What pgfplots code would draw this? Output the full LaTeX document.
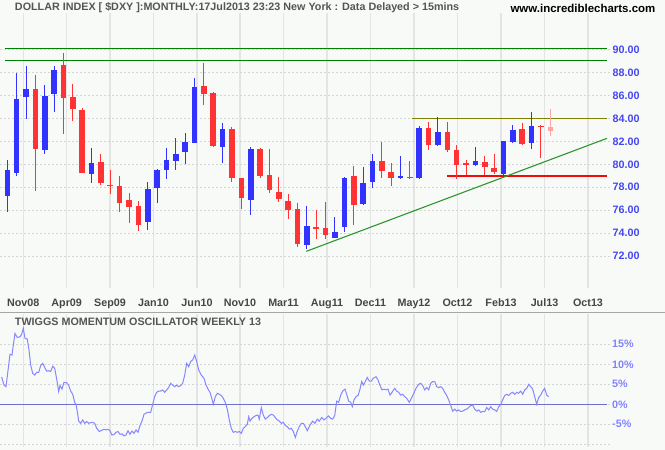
\documentclass[border=0pt]{standalone}
\usepackage{pgfplots}
\pgfplotsset{compat=1.18}
\usepackage{pgfplotstable}
\usepackage{fontspec}
\setmainfont{Liberation Sans}
\definecolor{bg}{RGB}{248,250,248}
\definecolor{cblue}{RGB}{51,51,255}
\definecolor{cred}{RGB}{255,51,51}
\definecolor{cpink}{RGB}{255,165,165}
\definecolor{gridv}{RGB}{228,228,228}
\definecolor{gridh}{RGB}{212,212,212}
\definecolor{lblblue}{RGB}{70,70,240}
\definecolor{osclbl}{RGB}{130,130,255}
\definecolor{oscline}{RGB}{135,135,255}
\definecolor{zeroline}{RGB}{110,110,205}
\definecolor{txtgray}{RGB}{85,85,85}
\definecolor{lgreen}{RGB}{0,128,0}
\definecolor{olivel}{RGB}{128,128,0}
\definecolor{tgreen}{RGB}{45,150,45}
\definecolor{hred}{RGB}{240,10,10}

% index 0 = Sep08 ... 58 = Jul13
\pgfplotstableread{
i open high low close
0 77.28 80.38 75.88 79.51
1 79.28 87.94 79.01 85.68
2 85.88 88.55 83.97 86.55
4 81.28 86.90 80.93 85.94
5 86.14 88.55 84.58 88.20
9 79.19 81.42 78.41 80.12
15 75.01 78.46 74.32 77.86
16 77.97 79.55 76.67 79.51
17 79.54 81.42 78.75 80.38
18 80.32 82.29 79.54 80.90
19 81.10 82.72 80.06 81.94
20 81.88 87.51 81.88 86.72
23 81.54 83.59 80.12 83.07
26 76.93 81.51 75.62 81.33
32 73.01 76.38 72.66 74.64
35 73.62 75.45 73.59 74.12
36 74.58 78.90 74.15 78.85
38 76.56 79.78 76.50 78.39
39 78.42 80.92 77.98 80.31
42 78.85 80.74 78.71 78.97
44 78.83 83.30 78.71 83.19
46 81.70 84.15 81.62 82.78
50 79.96 81.53 79.87 80.25
53 79.20 82.05 78.88 81.99
54 81.94 83.39 81.85 83.01
56 81.82 84.58 81.35 83.36
}\upcandles

\pgfplotstableread{
i open high low close
3 86.55 87.77 77.71 81.36
6 88.64 89.68 82.67 85.80
7 85.86 86.99 83.80 84.84
8 84.72 84.90 79.22 79.28
10 80.20 80.87 78.23 78.41
11 78.22 79.51 77.45 78.12
12 78.12 78.99 75.88 76.67
13 76.90 77.51 74.93 76.32
14 76.38 76.81 74.23 74.75
21 86.81 88.84 85.19 86.14
22 86.20 86.29 81.54 81.59
24 83.07 83.22 78.49 78.84
25 78.81 78.85 76.12 77.10
27 81.33 81.45 78.81 79.01
28 79.07 81.33 77.51 77.80
29 77.60 78.91 76.73 76.94
30 76.82 77.43 75.28 76.06
31 76.12 76.62 72.84 73.10
33 74.50 76.03 73.53 74.42
34 74.47 76.73 73.48 73.88
37 79.00 79.87 74.76 76.47
40 80.31 81.91 78.77 79.38
41 79.32 80.13 78.13 78.85
43 78.92 80.25 78.71 78.84
45 83.16 83.65 81.27 81.65
47 82.78 83.65 81.03 81.27
48 81.27 81.70 78.71 79.96
49 80.10 80.40 79.03 79.96
51 80.22 80.69 79.03 79.78
52 79.70 80.92 79.17 79.29
55 83.07 83.56 81.70 81.79
57 83.36 83.45 80.57 83.22
}\downcandles

\pgfplotstableread{
i open high low close
58 83.27 84.84 82.43 82.87
}\curcandle

\pgfplotsset{
  wick/.style={draw=none, mark=none, forget plot,
    error bars/.cd, y dir=both, y explicit, error mark=none,
    error bar style={draw=#1, solid, line width=1bp}},
  body/.style={draw=none, mark=none, forget plot,
    error bars/.cd, y dir=both, y explicit, error mark=none,
    error bar style={draw=#1, solid, line width=5.6bp}},
}

\newcommand{\lblfont}{\bfseries\fontsize{10.8}{12}\selectfont}

\begin{document}
\begin{tikzpicture}[x=1bp,y=1bp]
\fill[bg] (0bp,0bp) rectangle (665bp,-450bp);

\node[anchor=west, inner sep=0pt, text=txtgray, font=\lblfont] at (14.8bp,-8bp)
  {DOLLAR INDEX [ \$DXY ]:MONTHLY:17Jul2013 23:23 New York : Data Delayed > 15mins};
\node[anchor=east, inner sep=0pt, text=black, font=\bfseries\fontsize{11.5}{13}\selectfont] at (655.5bp,-8bp)
  {www.incrediblecharts.com};

\draw[black!35, line width=1bp] (0bp,-312.7bp) -- (665bp,-312.7bp);

% ---------------- main price panel ----------------
\begin{axis}[
  at={(0bp,-13bp)}, anchor=north west, scale only axis,
  width=610bp, height=275bp,
  xmin=-0.78, xmax=64.377, ymin=69.24, ymax=93.16,
  axis line style={draw=none}, tick style={draw=none}, major tick length=0pt,
  xtick={1.709,6.345,10.970,15.616,20.263,24.856,29.503,34.149,38.796,43.442,48.088,52.735,57.381,62.028},
  xticklabels={Nov08,Apr09,Sep09,Jan10,Jun10,Nov10,Mar11,Aug11,Dec11,May12,Oct12,Feb13,Jul13,Oct13},
  xticklabel style={anchor=north, inner sep=0pt, yshift=-10.5bp, text={rgb,255:red,70;green,70;blue,70}, font=\lblfont},
  ytick={72,74,...,90},
  yticklabel pos=right,
  yticklabel style={anchor=west, inner sep=0pt, xshift=2.5bp, text=lblblue, font=\lblfont,
    /pgf/number format/fixed, /pgf/number format/fixed zerofill, /pgf/number format/precision=2},
  /pgf/number format/assume math mode=true,
  xmajorgrids, ymajorgrids,
  major x grid style={gridv, line width=1.2bp},
  major y grid style={gridh, dash pattern=on 2bp off 2bp, line width=0.8bp},
  clip=false,
]
% resistance / support lines
\addplot[lgreen, line width=1.2bp] coordinates {(-0.246,90.05) (64.057,90.05)};
\addplot[lgreen, line width=1.2bp] coordinates {(-0.246,89.05) (64.057,89.05)};
\addplot[olivel, line width=1.4bp] coordinates {(43.26,84) (64.057,84)};
\addplot[hred, line width=1.5bp] coordinates {(46.97,79) (64.057,79)};
\addplot[tgreen, line width=1.1bp] coordinates {(31.94,72.43) (64.057,82.26)};

% candles: wicks
\addplot[wick=cblue] table[x=i, y expr={(\thisrow{high}+\thisrow{low})/2}, y error expr={(\thisrow{high}-\thisrow{low})/2}] {\upcandles};
\addplot[wick=cred] table[x=i, y expr={(\thisrow{high}+\thisrow{low})/2}, y error expr={(\thisrow{high}-\thisrow{low})/2}] {\downcandles};
\addplot[wick=cpink] table[x=i, y expr={(\thisrow{high}+\thisrow{low})/2}, y error expr={(\thisrow{high}-\thisrow{low})/2}] {\curcandle};
% candles: bodies
\addplot[body=cblue] table[x=i, y expr={(\thisrow{open}+\thisrow{close})/2}, y error expr={max(abs(\thisrow{open}-\thisrow{close})/2,0.045)}] {\upcandles};
\addplot[body=cred] table[x=i, y expr={(\thisrow{open}+\thisrow{close})/2}, y error expr={max(abs(\thisrow{open}-\thisrow{close})/2,0.045)}] {\downcandles};
\addplot[body=cpink] table[x=i, y expr={(\thisrow{open}+\thisrow{close})/2}, y error expr={max(abs(\thisrow{open}-\thisrow{close})/2,0.045)}] {\curcandle};
\end{axis}

% ---------------- oscillator panel ----------------
\begin{axis}[
  at={(0bp,-314bp)}, anchor=north west, scale only axis,
  width=610bp, height=133bp,
  xmin=0, xmax=610, ymin=-10.675, ymax=22.575,
  axis line style={draw=none}, tick style={draw=none}, major tick length=0pt,
  xtick={23.3,66.7,110,153.5,197,240,283.5,327,370.5,414,457.5,501,544.5,588},
  xticklabels={},
  ytick={-10,-5,0,5,10,15},
  yticklabels={,-5\%,0\%,5\%,10\%,15\%},
  yticklabel pos=right,
  yticklabel style={anchor=west, inner sep=0pt, xshift=2bp, text=osclbl, font=\lblfont},
  xmajorgrids, ymajorgrids,
  major x grid style={gridv, line width=1.2bp},
  major y grid style={gridh, dash pattern=on 2bp off 2bp, line width=0.8bp},
  clip=false,
]
\addplot[zeroline, line width=1.3bp] coordinates {(0,0) (607,0)};
\addplot[oscline, line width=1bp] coordinates {
(1.7,6.8)(4,4.8)(6,4.4)(8.3,9)(10,12.5)(12,12.3)(13.3,14.8)(15,17.7)(17.3,16.7)(20,16.9)(21.7,17.5)(23.3,19)(25,16.5)(27.3,16.3)(29,13.6)(30.7,9.8)(32.7,7.75)(34.7,7.3)(36.7,8)(38.7,8)(40.7,9.7)(42.7,10.25)(44.7,9.2)(46.7,8.3)(48.7,8.4)(50.7,8.2)(52.7,9.5)(54.7,9)(56.7,6.3)(58.7,3.2)(60,4.7)(62,3.8)(64,5.5)(66.7,5.4)(68.7,4.7)(70.7,3.3)(72.7,2.5)(74.7,0.5)(76,0)(77.3,-1.8)(78.7,-4.2)(80.7,-4.75)(82.7,-3.9)(84.7,-4.75)(86.7,-4.3)(88.7,-4.75)(90.7,-4.6)(92.7,-4.5)(94.7,-4.75)(96.7,-6)(99.3,-6.8)(101.7,-6.5)(104,-6.25)(106,-6.4)(108,-6.25)(110,-6.6)(112,-7.7)(114,-7.5)(116,-7)(118,-6.8)(120,-7.5)(122,-7.4)(124,-7.9)(126,-7.7)(128,-6.6)(130,-7.5)(132,-6.7)(134,-7.25)(136,-6.4)(138,-7)(140,-5.3)(142,-4.2)(144,-2.5)(146,-2.2)(148,-2)(150.7,-2)(152.7,0)(154.7,1.9)(156.7,3)(158.7,3.3)(160.7,3.3)(162.7,3.6)(164.7,3)(166.7,3.6)(168.7,4.2)(170.7,5.25)(172.7,4.8)(174.7,4.4)(176.7,4.8)(178.7,4.4)(180.7,4.7)(182.7,5.25)(184.7,7.3)(186.7,10.25)(188.7,9.4)(190.7,10.7)(192.7,11.1)(194.7,12.3)(196.7,10.7)(198.7,8.6)(201.3,7.3)(204,6.5)(206,4.8)(208,3.8)(210,3)(212,1.3)(213.3,0)(215.3,1.9)(217.3,2.75)(219.3,2.5)(221.3,2.2)(223.3,1.5)(225.3,0.5)(227.3,-1.2)(229.3,-3.9)(231.3,-6)(233.3,-7)(235.3,-6.8)(237.3,-7)(239.3,-6.8)(241.3,-7.25)(243.3,-6)(245.3,-5.6)(247.3,-5)(248.7,-3.1)(250,-4.2)(252,-3.5)(254,-3.1)(256,-2.8)(258,-2.7)(259.3,-3.7)(261.3,-0.8)(263.3,-2.7)(265.3,-3.7)(267.3,-3.3)(269.3,-2.8)(271.3,-2.5)(273.3,-2.7)(275.3,-3.3)(277.3,-3.9)(279.3,-4.2)(281.3,-4.75)(283.3,-4.5)(285.3,-5.3)(287.3,-5.6)(289.3,-6.2)(291.3,-6)(293.3,-6.8)(295.3,-8.3)(297.3,-6.7)(299.3,-5.6)(301.3,-4.75)(303.3,-4.75)(305.3,-5.6)(307.3,-6.6)(310,-5.2)(312.7,-4.2)(315,-4.75)(317.3,-3.7)(319.3,-4.2)(321.7,-3.3)(324,-3.9)(326,-3.5)(328.3,-2.9)(330.7,-3.5)(332.7,-3.7)(334.7,-2.8)(336.7,0.8)(338.7,0.5)(340.7,2.3)(342.7,3.3)(345,3.8)(346.7,2.5)(348.7,0.8)(350.7,0.5)(352.3,-0.6)(354,1.1)(356,1.9)(358.3,2.3)(360,3.8)(361.7,5.7)(363.3,4.8)(365.3,5.7)(367.3,6.7)(369.3,5.8)(371.3,5.8)(373.3,6.5)(376,6.9)(378,6.1)(380,4.7)(382,3.6)(384,3.8)(386,3.6)(388,3.8)(390,2.3)(392,3)(394.7,4)(396.7,3.3)(398.7,3)(400.7,2.3)(402.7,2.5)(404.7,1.9)(406.7,1.5)(409.3,0.5)(411.3,1.5)(413.3,2.5)(416,4)(418.7,5)(420.7,5.25)(422.7,4.7)(424.7,3.6)(426.7,4.2)(428.7,3.6)(430.7,5.25)(432.7,5.7)(434.7,5.7)(436.7,4.4)(438.7,4.2)(440.7,4.4)(442.7,4)(444.7,3)(446.7,2.2)(448.7,1.1)(450.7,-0.3)(452.7,-1.7)(454.7,-1.2)(456.7,-1.7)(458.7,-1.4)(460.7,-1.8)(462.7,-1.7)(464.7,-1.4)(466.7,-1.2)(468.7,-0.8)(470.7,-0.3)(472.7,-0.2)(474.7,-1.2)(476.7,-1.7)(478.7,-1.4)(480.7,-2)(482.7,-1.8)(484.7,-1.8)(486.7,-0.8)(488.7,-1.4)(490.7,-0.6)(492.7,-1.2)(494.7,-1.4)(496.7,-1.8)(498.7,-0.6)(500.7,0)(502.7,1.1)(504.7,2.2)(506.7,2.5)(508.7,2.2)(510.7,2.75)(512.7,3)(514.7,2.5)(516.7,3)(518.7,2.75)(520.7,3.3)(522.7,2.5)(524.7,3.6)(526.7,4)(528.7,5)(530.7,4.4)(532.7,3.8)(534.7,1.9)(536.7,0)(538.7,1.7)(540.7,2.3)(542.7,3.3)(544.7,4)(546.7,2.3)(548.7,1.9)
};
\end{axis}

\node[anchor=west, inner sep=0pt, text=txtgray, font=\lblfont] at (14.8bp,-321.5bp)
  {TWIGGS MOMENTUM OSCILLATOR WEEKLY 13};

\pgfresetboundingbox
\useasboundingbox (0bp,0bp) rectangle (665bp,-450bp);
\end{tikzpicture}
\end{document}
